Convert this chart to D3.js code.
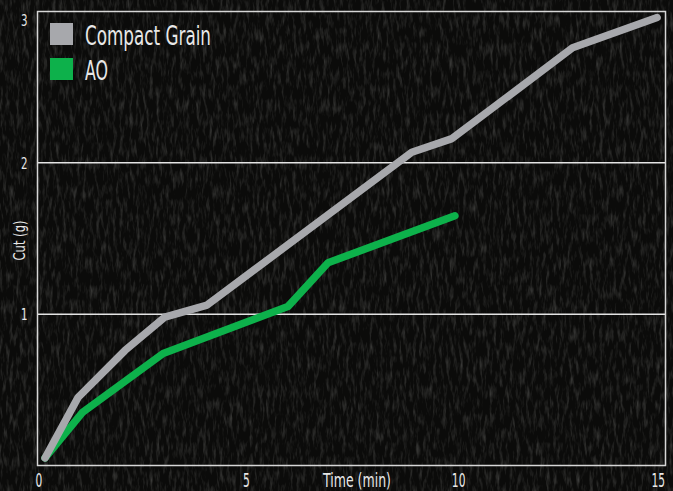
<!DOCTYPE html>
<html>
<head>
<meta charset="utf-8">
<script src="https://cdn.jsdelivr.net/npm/d3@7"></script>
<style>
  html, body { margin: 0; padding: 0; background: #0d0d0d; }
  svg { display: block; }
  .lbl { font-family: 'DejaVu Sans', sans-serif; font-stretch: condensed; fill: #e8e8e8; }
</style>
</head>
<body>
<svg id="chart" width="673" height="491"></svg>
<script>
// Cutting performance over time
const seriesNames = ["Compact Grain", "AO"];
const seriesColors = ["#a7a8ac", "#0db14b"];

const grainTime = [0.18, 0.97, 2.09, 3.04, 4.05, 8.94, 9.9, 12.78, 14.8];
const grainCut  = [0.05, 0.45, 0.76, 0.98, 1.06, 2.07, 2.16, 2.76, 2.96];

const aoTime = [0.18, 1.07, 3.0, 5.98, 6.94, 9.97];
const aoCut  = [0.05, 0.35, 0.74, 1.05, 1.34, 1.65];

const xTicks = [0, 5, 10, 15];
const yTicks = [1, 2, 3];

const W = 673, H = 491;
const m = { left: 37.5, right: 7.5, top: 11.5, bottom: 25.5 };

const svg = d3.select("#chart");

// grainy dark backdrop
const defs = svg.append("defs");
const f = defs.append("filter").attr("id", "grain")
  .attr("x", 0).attr("y", 0).attr("width", "100%").attr("height", "100%");
f.append("feTurbulence").attr("type", "fractalNoise")
  .attr("baseFrequency", "0.3 0.07").attr("numOctaves", 3).attr("seed", 7).attr("result", "n");
f.append("feColorMatrix").attr("in", "n").attr("type", "matrix")
  .attr("values", "0 0 0 0 0.2  0 0 0 0 0.2  0 0 0 0 0.19  1.4 0 0 0 -0.64");

svg.append("rect").attr("width", W).attr("height", H).attr("fill", "#0b0b0a");
svg.append("rect").attr("width", W).attr("height", H).attr("filter", "url(#grain)").attr("opacity", 0.6);

const x = d3.scaleLinear().domain([0, 15]).range([m.left, W - m.right]);
const y = d3.scaleLinear().domain([0, 3]).range([H - m.bottom, m.top]);

// grid lines
svg.append("g").selectAll("line").data(yTicks.slice(0, -1)).join("line")
  .attr("x1", x(0)).attr("x2", x(15))
  .attr("y1", d => y(d)).attr("y2", d => y(d))
  .attr("stroke", "#e4e4e4").attr("stroke-width", 1.5);

// frame
svg.append("rect")
  .attr("x", x(0)).attr("y", y(3))
  .attr("width", x(15) - x(0)).attr("height", y(0) - y(3))
  .attr("fill", "none").attr("stroke", "#d6d6d6").attr("stroke-width", 1.5);

// axes
const digitW = 6.8;
const xAxis = svg.append("g").attr("transform", `translate(0,${y(0)})`)
  .call(d3.axisBottom(x).tickValues(xTicks).tickSize(0).tickPadding(8).tickFormat(d3.format("d")));
xAxis.select(".domain").remove();
xAxis.selectAll("text").attr("class", "lbl").attr("font-size", 19).attr("dy", "0.71em")
  .attr("text-anchor", d => d === 15 ? "end" : "middle")
  .attr("x", d => d === 15 ? -1 : (d === 0 ? 1 : (d === 10 ? 2 : -1)))
  .attr("textLength", d => String(d).length * digitW)
  .attr("lengthAdjust", "spacingAndGlyphs");

const yAxis = svg.append("g").attr("transform", `translate(${x(0)},0)`)
  .call(d3.axisLeft(y).tickValues(yTicks).tickSize(0).tickPadding(10).tickFormat(d3.format("d")));
yAxis.select(".domain").remove();
yAxis.selectAll("text").attr("class", "lbl").attr("font-size", 16)
  .attr("dy", d => d === 3 ? "0.85em" : "0.36em")
  .attr("textLength", 6.5)
  .attr("lengthAdjust", "spacingAndGlyphs");

svg.append("text").attr("class", "lbl")
  .attr("x", 357).attr("y", 487)
  .attr("text-anchor", "middle").attr("font-size", 19)
  .attr("textLength", 68).attr("lengthAdjust", "spacingAndGlyphs")
  .text("Time (min)");

svg.append("text").attr("class", "lbl")
  .attr("transform", `translate(25,${(y(1) + y(2)) / 2 + 2}) rotate(-90)`)
  .attr("text-anchor", "middle").attr("font-size", 15)
  .attr("textLength", 40).attr("lengthAdjust", "spacingAndGlyphs")
  .text("Cut (g)");

// series lines
const line = d3.line().x(d => x(d[0])).y(d => y(d[1]));
const seriesData = [
  d3.zip(grainTime, grainCut),
  d3.zip(aoTime, aoCut)
];
svg.append("g").selectAll("path").data([1, 0]).join("path")
  .attr("d", i => line(seriesData[i]))
  .attr("fill", "none")
  .attr("stroke", i => seriesColors[i])
  .attr("stroke-width", 7.5)
  .attr("stroke-linecap", "round")
  .attr("stroke-linejoin", "round");

// legend
const legendW = { "Compact Grain": 126, "AO": 23 };
const lg = svg.append("g").attr("transform", "translate(50,23)");
const item = lg.selectAll("g").data(seriesNames).join("g")
  .attr("transform", (d, i) => `translate(0,${i * 35})`);
item.append("rect").attr("width", 23).attr("height", 22)
  .attr("fill", (d, i) => seriesColors[i]);
item.append("text").attr("class", "lbl")
  .attr("x", 35).attr("y", 22)
  .attr("font-size", 26)
  .attr("textLength", d => legendW[d])
  .attr("lengthAdjust", "spacingAndGlyphs")
  .text(d => d);
</script>
</body>
</html>
